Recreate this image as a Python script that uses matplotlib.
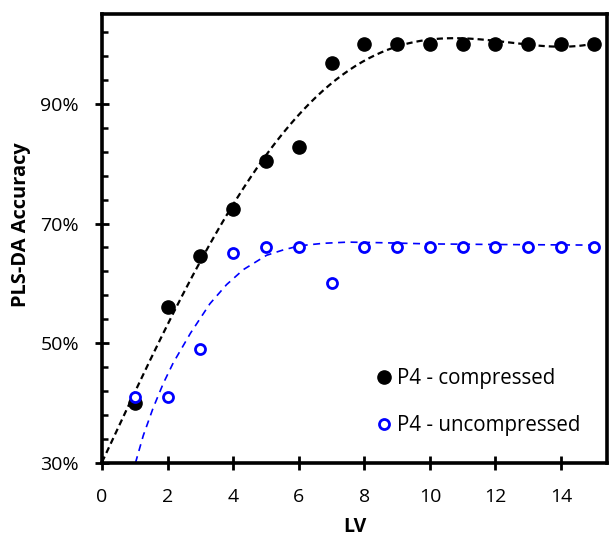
import matplotlib
matplotlib.use("Agg")
import matplotlib.pyplot as plt
from matplotlib.ticker import FuncFormatter
import numpy as np

# PLS-DA accuracy (%) vs number of latent variables
lv = [1, 2, 3, 4, 5, 6, 7, 8, 9, 10, 11, 12, 13, 14, 15]
acc_compressed = [40.0, 56.1, 64.6, 72.5, 80.5, 82.8, 96.8, 100, 100, 100, 100, 100, 100, 100, 100]
acc_uncompressed = [41.1, 41.1, 49.0, 65.1, 66.1, 66.1, 60.0, 66.1, 66.1, 66.1, 66.1, 66.1, 66.1, 66.1, 66.1]

# trend line of the uncompressed series
trend_unc_x = [1.02, 1.26, 1.56, 1.87, 2.17, 2.7, 3.29, 3.8, 4.31, 5.02, 5.53, 6.04,
               6.75, 7.5, 8.5, 10, 12, 15]
trend_unc_y = [30.0, 34.6, 39.2, 43.3, 46.7, 51.7, 56.6, 59.8, 62.3, 64.7, 65.6, 66.3,
               66.7, 66.9, 66.8, 66.6, 66.5, 66.4]

plt.rcParams['font.family'] = ['Open Sans', 'DejaVu Sans']

fig = plt.figure(figsize=(6.1, 5.4), dpi=100)
ax = fig.add_axes([0.1672, 0.1426, 0.8278, 0.8314])

# 4th order polynomial trend for the compressed series
coef = np.polyfit(lv, acc_compressed, 4)
xs = np.linspace(0, 15, 300)
ax.plot(xs, np.polyval(coef, xs), color='black', lw=1.6, ls=(0, (2.8, 1.8)), zorder=2)
ax.plot(trend_unc_x, trend_unc_y, color='#0000ff', lw=1.2, ls=(0, (4.2, 3.3)), zorder=2)

ax.plot(lv, acc_compressed, 'o', color='black', ms=9.5, zorder=3,
        label="P4 - compressed")
ax.plot(lv, acc_uncompressed, 'o', mfc='white', mec='#0000ff', mew=2, ms=7.2,
        zorder=3, label="P4 - uncompressed")

ax.set_xlim(0, 15.4)
ax.set_ylim(30, 105)
ax.set_xticks(np.arange(0, 15, 2))
ax.set_yticks(np.arange(30, 100, 20))
ax.set_yticks(np.arange(30, 105, 4), minor=True)
ax.yaxis.set_major_formatter(FuncFormatter(lambda v, p: f"{v:.0f}%"))

for s in ax.spines.values():
    s.set_linewidth(2.6)
ax.tick_params(which='major', direction='inout', length=10, width=2,
               labelsize=14, color='black')
ax.tick_params(axis='y', which='major', pad=11.5)
ax.tick_params(axis='x', which='major', pad=13)
ax.tick_params(axis='y', which='minor', direction='in', length=4, width=1.8)

ax.set_xlabel("LV", fontsize=14, fontweight='bold', labelpad=8)
ax.set_ylabel("PLS-DA Accuracy", fontsize=14.4, fontweight='bold')
ax.yaxis.set_label_coords(-0.14, 0.53)

ax.legend(loc='lower right', bbox_to_anchor=(0.948, 0.06), frameon=False, fontsize=14.8,
          handlelength=0.8, handletextpad=0.25, labelspacing=1.25, borderaxespad=0,
          borderpad=0)

fig.savefig("out.png", dpi=100)
